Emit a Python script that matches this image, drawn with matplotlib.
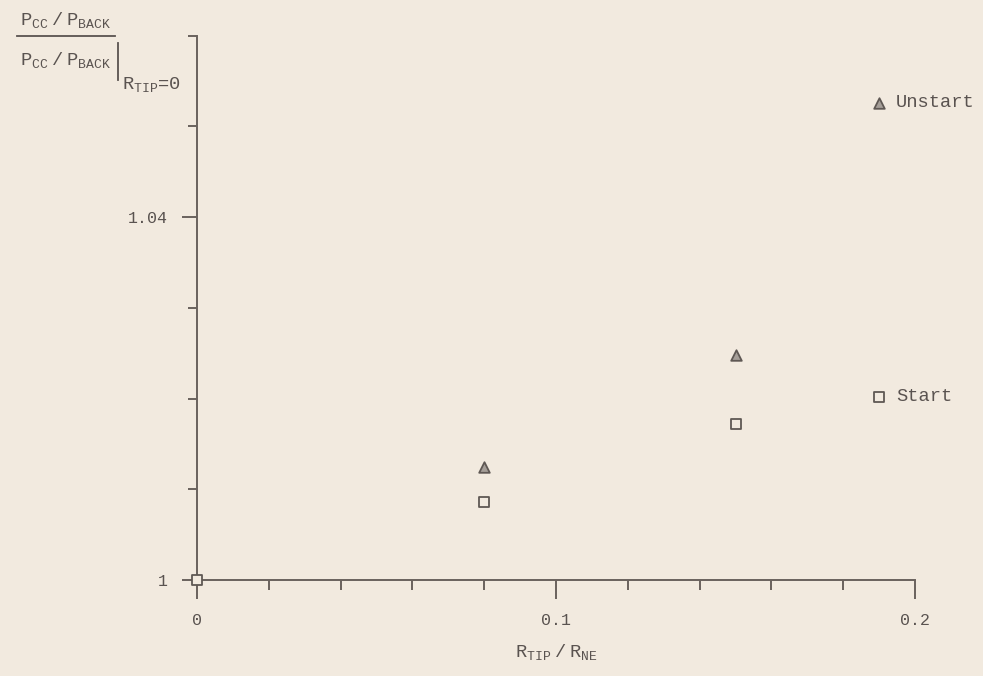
import matplotlib
matplotlib.use("Agg")
import matplotlib.pyplot as plt
from matplotlib.ticker import MultipleLocator, FixedLocator

# ---- data ----
start_x = [0.0, 0.08, 0.15]
start_y = [1.0, 1.0086, 1.0172]
unstart_x = [0.08, 0.15]
unstart_y = [1.0125, 1.0248]
legend_labels = ["Unstart", "Start"]
legend_x = [0.19, 0.19]
legend_y = [1.0526, 1.0202]
xticks_major = [0, 0.1, 0.2]
xtick_labels = ["0", "0.1", "0.2"]
yticks_major = [1.0, 1.04]
ytick_labels = ["1", "1.04"]

BG = "#f2eadf"
LINE = "#6a625d"
TEXT = "#5a5350"
FONT = "Liberation Mono"

plt.rcParams["font.family"] = [FONT, "DejaVu Sans"]
plt.rcParams["mathtext.fontset"] = "custom"
plt.rcParams["mathtext.rm"] = FONT
plt.rcParams["mathtext.it"] = FONT

W, H = 983, 676
fig = plt.figure(figsize=(W / 100, H / 100), dpi=100, facecolor=BG)
ax = fig.add_axes([197 / W, (H - 580) / H, (915 - 197) / W, (580 - 35.5) / H])
ax.set_facecolor(BG)

ax.set_xlim(0, 0.2)
ax.set_ylim(1.0, 1.06)
for s in ["top", "right"]:
    ax.spines[s].set_visible(False)
for s in ["left", "bottom"]:
    ax.spines[s].set_color(LINE)
    ax.spines[s].set_linewidth(1.4)

ax.xaxis.set_major_locator(FixedLocator(xticks_major))
ax.xaxis.set_minor_locator(MultipleLocator(0.02))
ax.set_xticklabels(xtick_labels)
ax.yaxis.set_major_locator(FixedLocator(yticks_major))
ax.yaxis.set_minor_locator(MultipleLocator(0.01))
ax.set_yticklabels(ytick_labels)

ax.tick_params(axis="y", which="major", direction="out", length=11, width=1.4,
               color=LINE, labelcolor=TEXT, labelsize=12, pad=10)
ax.tick_params(axis="x", which="major", direction="out", length=14, width=1.4,
               color=LINE, labelcolor=TEXT, labelsize=12, pad=10)
ax.tick_params(axis="x", which="minor", direction="out", length=7, width=1.4, color=LINE)
ax.tick_params(axis="y", which="minor", direction="out", length=6.5, width=1.4, color=LINE)

TRI = dict(marker="^", s=58, facecolor="#a59e98", edgecolor="#5f5854",
           linewidth=1.3, clip_on=False, zorder=5)
SQ = dict(marker="s", s=50, facecolor=BG, edgecolor="#5f5854",
          linewidth=1.3, clip_on=False, zorder=5)

# data markers
ax.scatter(unstart_x, unstart_y, **TRI)
ax.scatter(start_x, start_y, **SQ)

# in-plot legend
ax.scatter([legend_x[0]], [legend_y[0]], **TRI)
ax.scatter([legend_x[1]], [legend_y[1]], **SQ)
for lx, ly, lab in zip(legend_x, legend_y, legend_labels):
    ax.annotate(lab, (lx, ly), xytext=(12, 0), textcoords="offset points",
                va="center", ha="left", fontsize=13.5, color=TEXT)

# x label
fig.text(556 / W, 1 - 652 / H, r"$\mathrm{R_{TIP}\ /\ R_{NE}}$", ha="center",
         va="center", fontsize=13.5, color=TEXT)

# y label as a fraction
fig.text(66 / W, 1 - 20 / H, r"$\mathrm{P_{CC}\ /\ P_{BACK}}$", ha="center",
         va="center", fontsize=13.5, color=TEXT)
fig.add_artist(plt.Line2D([17 / W, 115 / W], [1 - 36 / H, 1 - 36 / H],
                          color=TEXT, linewidth=1.3))
fig.text(66 / W, 1 - 60 / H, r"$\mathrm{P_{CC}\ /\ P_{BACK}}$", ha="center",
         va="center", fontsize=13.5, color=TEXT)
fig.add_artist(plt.Line2D([118 / W, 118 / W], [1 - 43 / H, 1 - 80 / H],
                          color=TEXT, linewidth=1.3))
fig.text(122 / W, 1 - 84 / H, r"$\mathrm{R_{TIP}}$=0", ha="left",
         va="center", fontsize=13.5, color=TEXT)

fig.savefig("out.png", dpi=100, facecolor=BG)
